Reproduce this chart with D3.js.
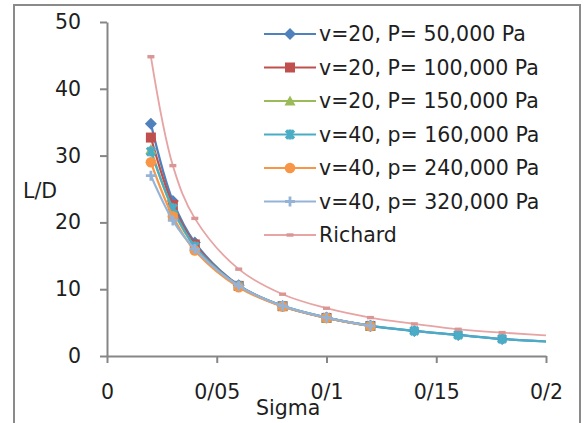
<!DOCTYPE html>
<html><head><meta charset="utf-8">
<script src="https://cdn.jsdelivr.net/npm/d3@7"></script>
<style>
html,body{margin:0;padding:0;background:#fff;}
svg{display:block;}
text{font-family:"DejaVu Sans",sans-serif;fill:#1e1e1e;}
</style></head>
<body>
<svg id="chart" width="584" height="423"></svg>
<script>
// ---- data ----
const sigmaLong  = [0.02,0.03,0.04,0.06,0.08,0.10,0.12,0.14,0.16,0.18,0.22];
const sigmaShort = [0.02,0.03,0.04,0.06,0.08,0.10,0.12];
const seriesNames = ["v=20, P= 50,000 Pa","v=20, P= 100,000 Pa","v=20, P= 150,000 Pa",
                     "v=40, p= 160,000 Pa","v=40, p= 240,000 Pa","v=40, p= 320,000 Pa","Richard"];
const ld50k   = [34.75,23.2,17.0,10.6,7.5,5.75,4.5,3.75,3.15,2.55,1.85];
const ld100k  = [32.7,22.6,16.7,10.5,7.45,5.7,4.5];
const ld150k  = [30.9,21.9,16.4,10.5,7.45,5.7,4.5];
const ld160k  = [30.6,22.1,16.4,10.5,7.5,5.75,4.55,3.75,3.15,2.55,1.85];
const ld240k  = [29.0,20.9,15.8,10.3,7.4,5.7,4.45];
const ld320k  = [27.0,20.3,16.0,10.5,7.5,5.75,4.5];
const ldRichard = [44.8,28.5,20.6,13.0,9.25,7.15,5.75,4.8,4.0,3.5,2.7];
const xTicks = [0,0.05,0.1,0.15,0.2];
const xTickLabels = ["0","0/05","0/1","0/15","0/2"];
const yTicks = [0,10,20,30,40,50];

const colors  = ["#4F81BD","#C0504D","#9BBB59","#4BACC6","#F79646","#95B3D7","#E6A5A4"];
const markers = ["diamond","square","triangle","x","circle","plus","dash"];
const series = [
  {x:sigmaLong,  y:ld50k},
  {x:sigmaShort, y:ld100k},
  {x:sigmaShort, y:ld150k},
  {x:sigmaLong,  y:ld160k},
  {x:sigmaShort, y:ld240k},
  {x:sigmaShort, y:ld320k},
  {x:sigmaLong,  y:ldRichard}
].map((s,i)=>({name:seriesNames[i],color:colors[i],marker:markers[i],
  pts:s.x.map((v,j)=>[v,s.y[j]])}));

// ---- layout ----
const svg = d3.select("#chart");
const x = d3.scaleLinear().domain([0,0.2]).range([107,546]);
const y = d3.scaleLinear().domain([0,50]).range([356,22]);

// outer frame
svg.append("rect").attr("x",14).attr("y",5).attr("width",566).attr("height",440)
  .attr("fill","none").attr("stroke","#8a8a8a").attr("stroke-width",2);

// clip
svg.append("clipPath").attr("id","plotclip").append("rect")
  .attr("x",x(0)).attr("y",y(50)-20).attr("width",x(0.2)-x(0)).attr("height",y(0)-y(50)+20);

// axes
const gx = svg.append("g").attr("transform",`translate(0,${y(0)})`)
  .call(d3.axisBottom(x).tickValues(xTicks).tickFormat((d,i)=>xTickLabels[i])
        .tickSizeInner(7).tickSizeOuter(0).tickPadding(21));
const gy = svg.append("g").attr("transform",`translate(${x(0)},0)`)
  .call(d3.axisLeft(y).tickValues(yTicks).tickSizeInner(7).tickSizeOuter(0).tickPadding(19));
[gx,gy].forEach(g=>{
  g.selectAll("path,line").attr("stroke","#868686").attr("stroke-width",2);
  g.selectAll("text").attr("font-size",20.5).attr("font-family","DejaVu Sans").attr("fill","#1e1e1e");
});

// axis titles
svg.append("text").attr("x",23).attr("y",197.5).attr("font-size",20.5).text("L/D");
svg.append("text").attr("x",256).attr("y",415).attr("font-size",20.5).text("Sigma");

// marker drawer
function drawMarker(g, type, color){
  switch(type){
    case "diamond": g.append("path").attr("d","M0,-6L6,0L0,6L-6,0Z").attr("fill",color); break;
    case "square": g.append("rect").attr("x",-5).attr("y",-5).attr("width",10).attr("height",10).attr("fill",color); break;
    case "triangle": g.append("path").attr("d","M0,-5.5L5.5,4.5L-5.5,4.5Z").attr("fill",color); break;
    case "x": g.append("path").attr("d","M-4,-4L4,4M-4,4L4,-4M0,-5L0,5").attr("stroke",color).attr("stroke-width",3.2).attr("fill","none"); break;
    case "circle": g.append("circle").attr("r",5.3).attr("fill",color); break;
    case "plus": g.append("path").attr("d","M-5,0L5,0M0,-5L0,5").attr("stroke",color).attr("stroke-width",2.8).attr("fill","none"); break;
    case "dash": g.append("rect").attr("x",-3.5).attr("y",-1.7).attr("width",7).attr("height",3.4).attr("fill","#D99694"); break;
  }
}

// lines and markers
const line = d3.line().x(d=>x(d[0])).y(d=>y(d[1])).curve(d3.curveCatmullRom.alpha(0.5));
const plot = svg.append("g").attr("clip-path","url(#plotclip)");
series.forEach((s,i)=>{
  plot.append("path").attr("d",line(s.pts)).attr("fill","none")
    .attr("stroke",s.color).attr("stroke-width", i===6?1.8:2.2);
  s.pts.forEach(p=>{
    const g = plot.append("g").attr("transform",`translate(${x(p[0])},${y(p[1])})`);
    drawMarker(g,s.marker,s.color);
  });
});

// legend
const lg = svg.append("g");
series.forEach((s,i)=>{
  const cy = 34 + i*33.5;
  lg.append("line").attr("x1",264).attr("x2",316).attr("y1",cy).attr("y2",cy)
    .attr("stroke",s.color).attr("stroke-width",2);
  const m = lg.append("g").attr("transform",`translate(290,${cy})`);
  drawMarker(m,s.marker,s.color);
  lg.append("text").attr("x",319).attr("y",cy).attr("dy","0.36em").attr("font-size",20.5).text(s.name);
});
</script>
</body></html>
